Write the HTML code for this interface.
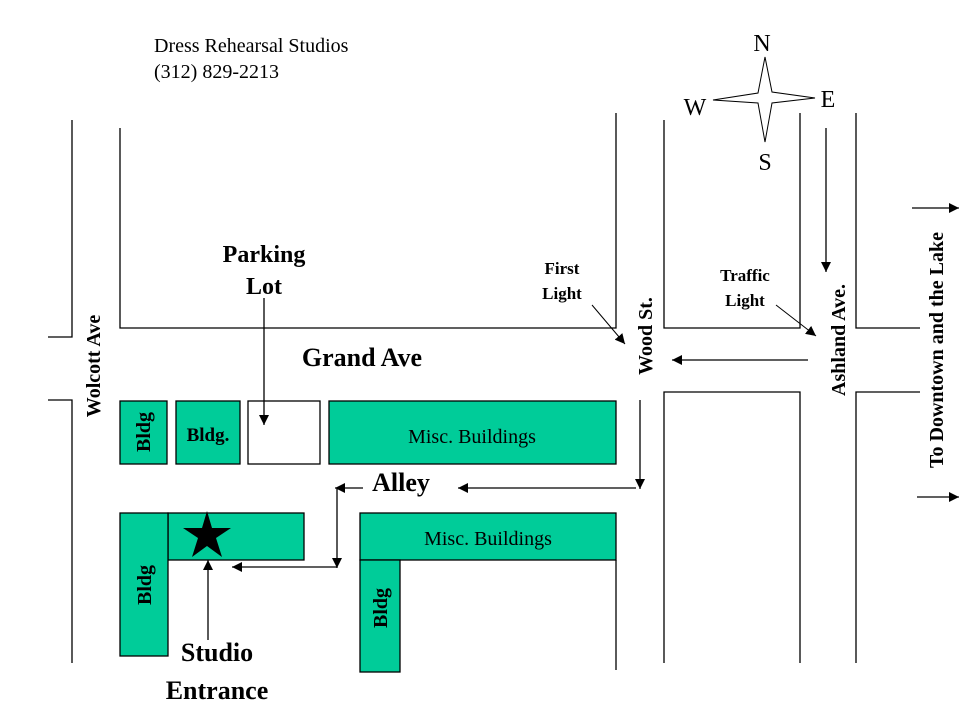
<!DOCTYPE html>
<html><head><meta charset="utf-8"><style>
html,body{margin:0;padding:0;background:#fff;}
svg{display:block;}
text{font-family:"Liberation Serif",serif;fill:#000;}
.b{font-weight:bold;}
</style></head><body>
<svg width="959" height="719" viewBox="0 0 959 719" xmlns="http://www.w3.org/2000/svg">
<defs>
<marker id="ah" viewBox="0 0 10 10" refX="10" refY="5" markerWidth="10" markerHeight="10" markerUnits="userSpaceOnUse" orient="auto">
<path d="M0,0 L10,5 L0,10 z" fill="#000"/></marker>
</defs>
<g stroke="#000" stroke-width="1.3" fill="none">
<!-- Wolcott -->
<polyline points="72,120 72,337 48,337"/>
<polyline points="48,400 72,400 72,663"/>
<!-- top block -->
<polyline points="120,128 120,328 616,328 616,113"/>
<polyline points="664,120 664,328 800,328 800,113"/>
<polyline points="856,113 856,328 920,328"/>
<!-- bottom -->
<line x1="616" y1="560" x2="616" y2="670"/>
<polyline points="664,663 664,392 800,392 800,663"/>
<polyline points="856,663 856,392 920,392"/>
</g>
<!-- buildings -->
<g fill="#00CC99" stroke="#000" stroke-width="1.3">
<rect x="120" y="401" width="47" height="63"/>
<rect x="176" y="401" width="64" height="63"/>
<rect x="329" y="401" width="287" height="63"/>
<rect x="168" y="513" width="136" height="47"/>
<rect x="120" y="513" width="48" height="143"/>
<rect x="360" y="513" width="256" height="47"/>
<rect x="360" y="560" width="40" height="112"/>
</g>
<rect x="248" y="401" width="72" height="63" fill="#fff" stroke="#000" stroke-width="1.3"/>
<!-- star -->
<polygon points="207,511 212,528 231,528 216,538 222,557 207,546 192,557 198,538 183,528 202,528" fill="#000"/>
<!-- compass -->
<polygon points="765,57 772,92 815,98 772,103 765,142 758,103 713,100 758,93" fill="#fff" stroke="#000" stroke-width="1"/>
<!-- arrows -->
<g stroke="#000" stroke-width="1.3" fill="none" marker-end="url(#ah)">
<line x1="264" y1="298" x2="264" y2="425"/>
<line x1="636" y1="488" x2="458" y2="488"/>
<line x1="363" y1="488" x2="335" y2="488"/>
<polyline points="337,488 337,568"/>
<line x1="337" y1="567" x2="232" y2="567"/>
<line x1="208" y1="640" x2="208" y2="560"/>
<line x1="640" y1="400" x2="640" y2="489"/>
<line x1="826" y1="128" x2="826" y2="272"/>
<line x1="808" y1="360" x2="672" y2="360"/>
<line x1="592" y1="305" x2="625" y2="344" stroke-width="1"/>
<line x1="776" y1="305" x2="816" y2="336" stroke-width="1"/>
<line x1="912" y1="208" x2="959" y2="208"/>
<line x1="917" y1="497" x2="959" y2="497"/>
</g>
<!-- text -->
<text x="154" y="52" font-size="20">Dress Rehearsal Studios</text>
<text x="154" y="78" font-size="20">(312) 829-2213</text>
<text x="762" y="51" font-size="24" text-anchor="middle">N</text>
<text x="695" y="115" font-size="24" text-anchor="middle">W</text>
<text x="828" y="107" font-size="24" text-anchor="middle">E</text>
<text x="765" y="170" font-size="24" text-anchor="middle">S</text>
<text class="b" x="264" y="262" font-size="24" text-anchor="middle">Parking</text>
<text class="b" x="264" y="294" font-size="24" text-anchor="middle">Lot</text>
<text class="b" x="362" y="366" font-size="26" text-anchor="middle">Grand Ave</text>
<text class="b" x="562" y="274" font-size="17" text-anchor="middle">First</text>
<text class="b" x="562" y="299" font-size="17" text-anchor="middle">Light</text>
<text class="b" x="745" y="281" font-size="17" text-anchor="middle">Traffic</text>
<text class="b" x="745" y="306" font-size="17" text-anchor="middle">Light</text>
<text class="b" x="401" y="491" font-size="26" text-anchor="middle">Alley</text>
<text x="472" y="443" font-size="20" text-anchor="middle">Misc. Buildings</text>
<text x="488" y="545" font-size="20" text-anchor="middle">Misc. Buildings</text>
<text class="b" x="208" y="441" font-size="19" text-anchor="middle">Bldg.</text>
<text class="b" x="217" y="661" font-size="26" text-anchor="middle">Studio</text>
<text class="b" x="217" y="699" font-size="26" text-anchor="middle">Entrance</text>
<text class="b" font-size="20" text-anchor="middle" transform="translate(150,432) rotate(-90)">Bldg</text>
<text class="b" font-size="20" text-anchor="middle" transform="translate(151,585) rotate(-90)">Bldg</text>
<text class="b" font-size="20" text-anchor="middle" transform="translate(387,608) rotate(-90)">Bldg</text>
<text class="b" font-size="20" text-anchor="middle" transform="translate(100,366) rotate(-90)">Wolcott Ave</text>
<text class="b" font-size="20" text-anchor="middle" transform="translate(652,336) rotate(-90)">Wood St.</text>
<text class="b" font-size="20" text-anchor="middle" transform="translate(845,340) rotate(-90)">Ashland Ave.</text>
<text class="b" font-size="20" text-anchor="middle" transform="translate(943,350) rotate(-90)">To Downtown and the Lake</text>
</svg>
</body></html>
